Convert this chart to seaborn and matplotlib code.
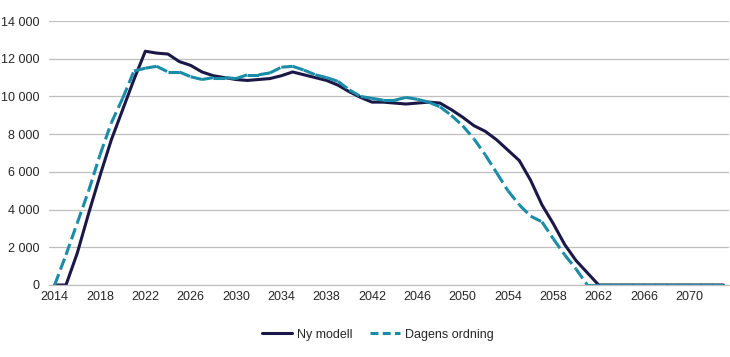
import matplotlib
matplotlib.use("Agg")
import matplotlib.pyplot as plt
from matplotlib.lines import Line2D
from matplotlib.ticker import FixedLocator, FuncFormatter
import pandas as pd
import seaborn as sns

years = list(range(2014, 2074))

ny_modell = [
    0, 0, 1700, 3800, 5800, 7700, 9300, 10900, 12400, 12300,
    12250, 11850, 11650, 11300, 11100, 11000, 10900, 10850, 10900, 10950,
    11100, 11300, 11150, 11000, 10850, 10600, 10250, 9950, 9700, 9700,
    9650, 9600, 9650, 9700, 9650, 9300, 8900, 8450, 8150, 7700,
    7150, 6600, 5550, 4250, 3250, 2150, 1300, 650, 0, 0,
    0, 0, 0, 0, 0, 0, 0, 0, 0, 0,
]

dagens_ordning = [
    0, 1600, 3300, 5000, 6900, 8600, 9900, 11350, 11500, 11600,
    11300, 11300, 11050, 10900, 11000, 11000, 10950, 11150, 11150, 11250,
    11550, 11600, 11400, 11150, 11000, 10800, 10350, 10000, 9900, 9800,
    9800, 9950, 9850, 9700, 9450, 9000, 8450, 7750, 6900, 5950,
    5000, 4250, 3650, 3350, 2450, 1600, 850, 0, 0, 0,
    0, 0, 0, 0, 0, 0, 0, 0, 0, 0,
]

series_labels = ["Ny modell", "Dagens ordning"]
x_tick_labels = list(range(2014, 2071, 4))
y_ticks = [0, 2000, 4000, 6000, 8000, 10000, 12000, 14000]

NAVY = "#1b1848"
TEAL = "#1a8ca8"
GRID = "#bfbfbf"
DASH = (0, (3.8, 1.6))

sns.set_style("white")
plt.rcParams["font.family"] = ["Liberation Sans", "DejaVu Sans"]
plt.rcParams["font.size"] = 9

ny_frame = pd.DataFrame({"year": years, "value": ny_modell})

# Excel restarts the dash pattern at every data point, so draw the
# dashed series one segment at a time (one unit per segment).
rows = []
for i in range(len(years) - 1):
    for j in (i, i + 1):
        rows.append({"year": years[j], "value": dagens_ordning[j], "seg": i})
dagens_frame = pd.DataFrame(rows)

fig = plt.figure(figsize=(7.3, 3.57), dpi=100)
ax = fig.add_axes([0.0671, 0.2017, 0.9315, 0.7393])

sns.lineplot(data=ny_frame, x="year", y="value", color=NAVY, linewidth=2.2, ax=ax)
sns.lineplot(
    data=dagens_frame, x="year", y="value", units="seg", estimator=None,
    color=TEAL, linewidth=2.2, linestyle=DASH, ax=ax,
)

ax.set_xlim(2013.5, 2073.5)
ax.set_ylim(0, 14000)
ax.set_xlabel("")
ax.set_ylabel("")

ax.xaxis.set_major_locator(FixedLocator(x_tick_labels))
ax.xaxis.set_minor_locator(FixedLocator([2013.5 + 2 * k for k in range(31)]))
ax.tick_params(axis="x", which="major", length=0, pad=4, labelsize=9)
ax.tick_params(axis="x", which="minor", length=4, width=0.8, color=GRID, direction="out")

ax.yaxis.set_major_locator(FixedLocator(y_ticks))
ax.yaxis.set_major_formatter(FuncFormatter(lambda v, _: f"{int(v):,}".replace(",", " ")))
ax.tick_params(axis="y", length=0, pad=7, labelsize=9)

ax.grid(axis="y", color=GRID, linewidth=0.9)
ax.set_axisbelow(True)
for side in ("left", "right", "top"):
    ax.spines[side].set_visible(False)
ax.spines["bottom"].set_color(GRID)
ax.spines["bottom"].set_linewidth(0.9)

handles = [
    Line2D([], [], color=NAVY, linewidth=2.2),
    Line2D([], [], color=TEAL, linewidth=2.2, linestyle=(0, (2.6, 1.4))),
]
fig.legend(
    handles, series_labels, loc="center", bbox_to_anchor=(0.518, 0.062),
    ncol=2, frameon=False, handlelength=2.4, handletextpad=0.4,
    columnspacing=1.4, fontsize=9,
)

fig.savefig("out.png", dpi=100)
